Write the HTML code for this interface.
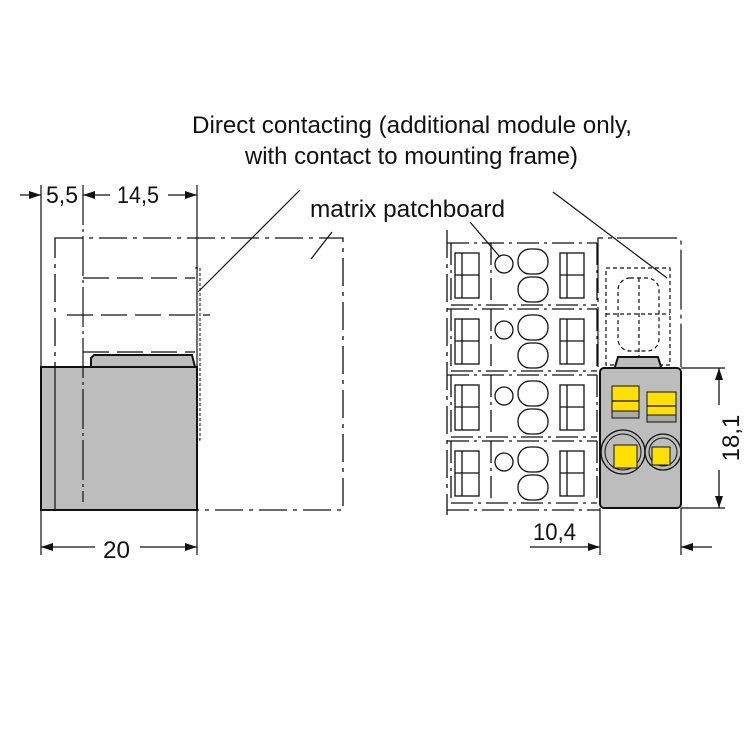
<!DOCTYPE html>
<html><head><meta charset="utf-8"><style>html,body{margin:0;padding:0;background:#fff}svg{display:block}</style></head><body>
<svg width="750" height="750" viewBox="0 0 750 750" xmlns="http://www.w3.org/2000/svg" font-family="'Liberation Sans Narrow','Liberation Sans',sans-serif" fill="none" stroke="#111">
<defs>
<marker id="a" viewBox="0 0 12 8" refX="12" refY="4" markerWidth="12" markerHeight="8" orient="auto" markerUnits="userSpaceOnUse"><path d="M0,0L12,4L0,8z" fill="#111" stroke="none"/></marker>
</defs>
<!-- texts -->
<g fill="#111" stroke="none" font-size="24">
<text x="192" y="133" textLength="440" lengthAdjust="spacingAndGlyphs">Direct contacting (additional module only,</text>
<text x="245" y="164" textLength="333" lengthAdjust="spacingAndGlyphs">with contact to mounting frame)</text>
<text x="310" y="217" textLength="195" lengthAdjust="spacingAndGlyphs">matrix patchboard</text>
<text x="46" y="203" textLength="32" lengthAdjust="spacingAndGlyphs">5,5</text>
<text x="117" y="203" textLength="42" lengthAdjust="spacingAndGlyphs">14,5</text>
<text x="103" y="558" textLength="27" lengthAdjust="spacingAndGlyphs">20</text>
<text x="533" y="540" textLength="43" lengthAdjust="spacingAndGlyphs">10,4</text>
<text transform="translate(739,438) rotate(-90)" text-anchor="middle">18,1</text>
</g>
<!-- leaders -->
<g stroke-width="1.2">
<line x1="300" y1="190" x2="198" y2="292"/>
<line x1="332" y1="232" x2="311" y2="259"/>
<line x1="470" y1="222" x2="500" y2="257"/>
<line x1="553" y1="192" x2="667" y2="278"/>
</g>
<!-- LEFT VIEW -->
<rect x="55" y="238" width="288" height="272" stroke-width="1.3" stroke-dasharray="28,6,4,6"/>
<path d="M91,367 L91,358 L94,355 L192,355 L195,367" fill="#bdbdbd" stroke-width="2"/>
<rect x="41" y="367" width="156" height="143" fill="#bdbdbd" stroke-width="2"/>
<line x1="55" y1="367" x2="55" y2="510" stroke-width="1.2"/>
<line x1="83" y1="185" x2="83" y2="502" stroke-width="1.2" stroke-dasharray="40,4,3,4"/>
<g stroke-width="1.3" stroke-dasharray="26,8">
<line x1="83" y1="278" x2="195" y2="278"/>
<line x1="67" y1="315" x2="210" y2="315"/>
<line x1="83" y1="352" x2="195" y2="352"/>
</g>
<path d="M195,268 L200,268 L200,440 L196,440" stroke-width="1" stroke-dasharray="3,2"/>
<line x1="41" y1="185" x2="41" y2="367" stroke-width="1.2"/>
<line x1="197" y1="185" x2="197" y2="555" stroke-width="1.2"/>
<line x1="41" y1="510" x2="41" y2="555" stroke-width="1.2"/>
<line x1="20" y1="195" x2="41" y2="195" stroke-width="1.3" marker-end="url(#a)"/>
<line x1="110" y1="195" x2="83" y2="195" stroke-width="1.3" marker-end="url(#a)"/>
<line x1="168" y1="195" x2="197" y2="195" stroke-width="1.3" marker-end="url(#a)"/>
<line x1="95" y1="547" x2="41" y2="547" stroke-width="1.3" marker-end="url(#a)"/>
<line x1="140" y1="547" x2="197" y2="547" stroke-width="1.3" marker-end="url(#a)"/>
<!-- RIGHT VIEW rows -->
<line x1="447" y1="230" x2="447" y2="515" stroke-width="1.3" stroke-dasharray="28,6,4,6"/>
<g stroke-width="1.3">
<g id="row">
<path d="M447,243 H597 M451,243 V305 M491,243 V305 M451,305 H597 M597,243 V305" stroke-dasharray="22,5,3,5"/>
<rect x="455" y="253" width="24" height="45"/><line x1="462" y1="253" x2="462" y2="298"/><line x1="455" y1="275" x2="479" y2="275"/>
<rect x="560" y="253" width="24" height="45"/><line x1="567" y1="253" x2="567" y2="298"/><line x1="560" y1="275" x2="584" y2="275"/>
<circle cx="504" cy="264" r="9"/>
<rect x="518" y="249" width="30" height="25" rx="12"/>
<rect x="518" y="277" width="30" height="25" rx="12"/>
</g>
<use href="#row" y="66"/><use href="#row" y="132"/><use href="#row" y="198"/>
</g>
<line x1="447" y1="510" x2="600" y2="510" stroke-width="1.3" stroke-dasharray="22,5,3,5"/>
<!-- frame -->
<path d="M598,367 V238 H677 Q681,238 681,242 V367" stroke-width="1.2" stroke-dasharray="60,5,4,5"/>
<g stroke-width="1.2" stroke-dasharray="4,3">
<rect x="606" y="268" width="64" height="97"/>
<rect x="618" y="278" width="41" height="73" rx="12"/>
<line x1="639" y1="278" x2="639" y2="365"/>
<line x1="606" y1="314" x2="670" y2="314"/>
</g>
<path d="M615,367 L618,357 L658,357 L661,367" fill="#bdbdbd" stroke-width="2"/>
<rect x="600" y="368" width="81" height="140" rx="4" fill="#bdbdbd" stroke-width="2"/>
<rect x="612" y="386" width="27" height="32" fill="#ffe000" stroke-width="1"/>
<rect x="612" y="411" width="27" height="7" fill="#aaa" stroke-width="1"/>
<line x1="612" y1="401" x2="639" y2="401" stroke-width="1.2"/>
<rect x="647" y="392" width="29" height="30" fill="#ffe000" stroke-width="1"/>
<rect x="647" y="415" width="29" height="7" fill="#aaa" stroke-width="1"/>
<line x1="647" y1="406" x2="676" y2="406" stroke-width="1.2"/>
<circle cx="623" cy="452" r="22" stroke-width="1.3"/><circle cx="623" cy="452" r="18" stroke-width="1"/>
<circle cx="663" cy="452" r="18" stroke-width="1.3"/><circle cx="663" cy="452" r="14" stroke-width="1"/>
<rect x="614" y="445" width="23" height="23" fill="#ffe000" stroke-width="1"/>
<rect x="652" y="447" width="18" height="18" fill="#ffe000" stroke-width="1"/>
<!-- dims right -->
<line x1="681" y1="368" x2="725" y2="368" stroke-width="1.2"/>
<line x1="681" y1="508" x2="725" y2="508" stroke-width="1.2"/>
<line x1="719" y1="405" x2="719" y2="368" stroke-width="1.3" marker-end="url(#a)"/>
<line x1="719" y1="470" x2="719" y2="508" stroke-width="1.3" marker-end="url(#a)"/>
<line x1="600" y1="508" x2="600" y2="555" stroke-width="1.2"/>
<line x1="681" y1="508" x2="681" y2="555" stroke-width="1.2"/>
<line x1="530" y1="547" x2="600" y2="547" stroke-width="1.3" marker-end="url(#a)"/>
<line x1="712" y1="547" x2="681" y2="547" stroke-width="1.3" marker-end="url(#a)"/>
</svg>
</body></html>
